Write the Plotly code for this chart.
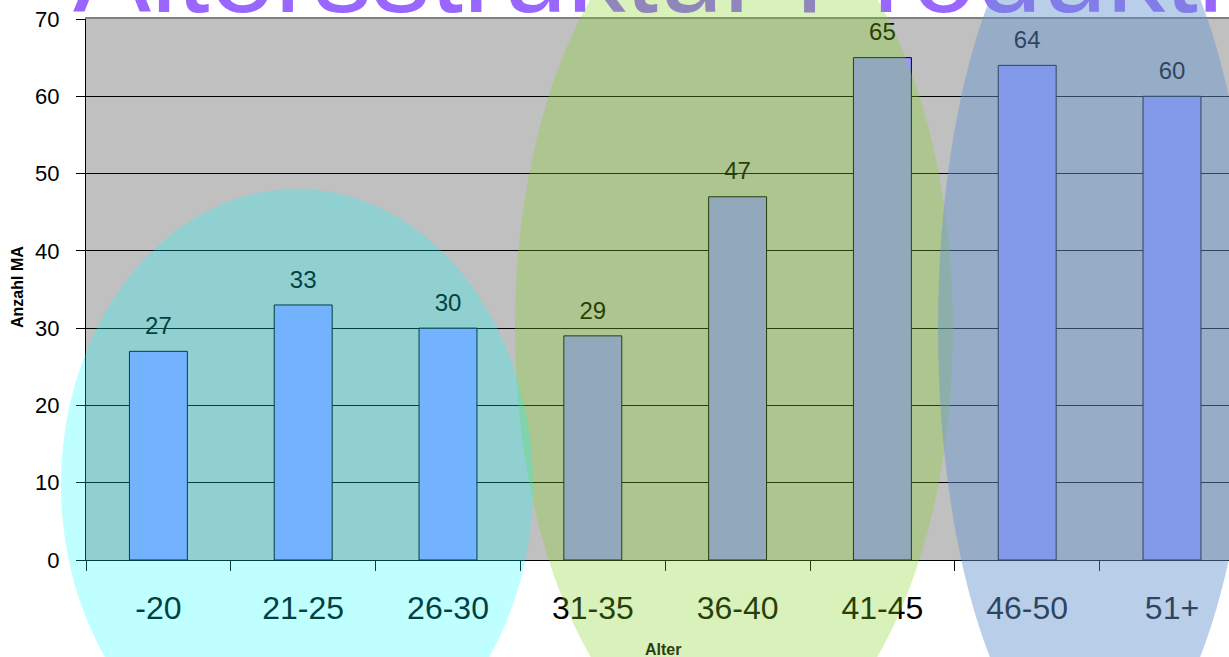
import plotly.graph_objects as go

# ---- data ----
categories = ["-20", "21-25", "26-30", "31-35", "36-40", "41-45", "46-50", "51+"]
counts = [27, 33, 30, 29, 47, 65, 64, 60]
y_tickvals = [0, 10, 20, 30, 40, 50, 60, 70]
title_text = "Altersstruktur Produktion"
x_title = "Alter"
y_title = "Anzahl MA"

# ---- layout constants (pixels) ----
W, H = 1229, 657
L, R, T, B = 86, 0, 19, 97
PW, PH = W - L - R, H - T - B
CAT_PX = 144.8
FONT = "Arial, Liberation Sans, sans-serif"
YMAX = 70

# Arial advance widths (em) used to centre the oversized title
ARIAL_W = {"A": .667, "l": .222, "t": .278, "e": .556, "r": .333, "s": .5,
           "u": .556, "k": .5, " ": .278, "P": .667, "o": .556, "d": .556,
           "i": .222, "n": .556}


def px(x):
    return (x - L) / PW


def py(y):
    return (H - B - y) / PH


def ydata(pix):
    return (H - B - pix) / PH * YMAX


fig = go.Figure()

fig.add_trace(go.Bar(
    x=categories, y=counts, width=0.4,
    marker=dict(color="#9999FF", line=dict(color="black", width=1)),
    hoverinfo="skip", showlegend=False,
))

# value labels
fig.add_trace(go.Scatter(
    x=categories, y=counts, mode="markers+text",
    text=[str(v) for v in counts], textposition="top center",
    textfont=dict(family=FONT, size=24, color="black"),
    marker=dict(size=16.5, color="rgba(0,0,0,0)"),
    cliponaxis=False, hoverinfo="skip", showlegend=False,
))

# big title (drawn below the overlay ellipses)
TITLE_FS = 117
TITLE_LEFT = 73
title_w = sum(ARIAL_W.get(c, .556) for c in title_text) * TITLE_FS
fig.add_trace(go.Scatter(
    x=[TITLE_LEFT + title_w / 2], y=[ydata(11.5 + 0.25 * TITLE_FS)], xaxis="x2",
    mode="text", text=[title_text], textposition="top center",
    textfont=dict(family=FONT, size=TITLE_FS, color="#9966FF"),
    cliponaxis=False, hoverinfo="skip", showlegend=False,
))

ellipses = [
    ((515, -107, 953, 763), "rgba(130,210,30,0.30)"),
    ((61, 189, 533, 781), "rgba(0,255,255,0.25)"),
    ((938, -115, 1252, 771), "rgba(102,150,206,0.46)"),
]
shapes = []
for (x0, y0, x1, y1), col in ellipses:
    shapes.append(dict(
        type="circle", xref="paper", yref="paper",
        x0=px(x0), x1=px(x1), y0=py(y1), y1=py(y0),
        fillcolor=col, line=dict(width=0), layer="above",
    ))

fig.update_layout(
    width=W, height=H,
    margin=dict(l=L, r=R, t=T, b=B, pad=0),
    paper_bgcolor="white", plot_bgcolor="#C0C0C0",
    font=dict(family=FONT, color="black"),
    bargap=0.6,
    showlegend=False,
    xaxis=dict(
        type="category", categoryorder="array", categoryarray=categories,
        range=[-0.5, -0.5 + PW / CAT_PX],
        showline=True, linecolor="black", linewidth=1,
        ticks="outside", ticklen=10, tickcolor="black", tickwidth=1,
        tickson="boundaries",
        tickfont=dict(family=FONT, size=32, color="black"),
        ticklabelstandoff=20,
        showgrid=False, zeroline=False, fixedrange=True,
    ),
    xaxis2=dict(
        overlaying="x", side="top", range=[L, W],
        showline=True, linecolor="#808080", linewidth=2,
        showticklabels=False, ticks="", showgrid=False, zeroline=False,
        fixedrange=True,
    ),
    yaxis=dict(
        range=[0, YMAX], tickvals=y_tickvals,
        showline=True, linecolor="black", linewidth=1,
        ticks="outside", ticklen=9, tickcolor="black", tickwidth=1,
        tickfont=dict(family=FONT, size=22, color="black"),
        ticklabelstandoff=12,
        showgrid=True, gridcolor="black", gridwidth=1,
        zeroline=False, fixedrange=True,
    ),
    shapes=shapes,
    annotations=[
        dict(text="<b>%s</b>" % y_title, xref="paper", yref="paper",
             x=px(17), y=py(287), textangle=-90, showarrow=False,
             xanchor="center", yanchor="middle",
             font=dict(family=FONT, size=16, color="black")),
        dict(text="<b>%s</b>" % x_title, xref="paper", yref="paper",
             x=px(663), y=py(649), showarrow=False,
             xanchor="center", yanchor="middle",
             font=dict(family=FONT, size=16, color="#2A4010")),
    ],
)

fig.write_html("out.html")
